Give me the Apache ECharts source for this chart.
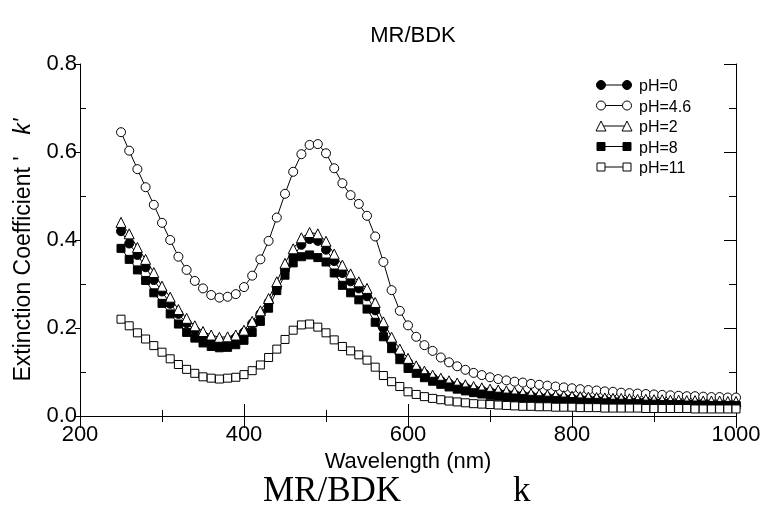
<!DOCTYPE html>
<html>
<head>
<meta charset="utf-8">
<script src="https://cdn.jsdelivr.net/npm/echarts@6/dist/echarts.min.js"></script>
<style>html,body{margin:0;padding:0;background:#fff}#c{width:771px;height:518px}</style>
</head>
<body>
<div id="c"></div>
<script>
const wavelengths = [250,260,270,280,290,300,310,320,330,340,350,360,370,380,390,400,410,420,430,440,450,460,470,480,490,500,510,520,530,540,550,560,570,580,590,600,610,620,630,640,650,660,670,680,690,700,710,720,730,740,750,760,770,780,790,800,810,820,830,840,850,860,870,880,890,900,910,920,930,940,950,960,970,980,990,1000];

const pH0 = [0.420,0.392,0.366,0.338,0.309,0.283,0.255,0.232,0.211,0.195,0.182,0.172,0.168,0.170,0.178,0.190,0.210,0.232,0.258,0.292,0.332,0.362,0.389,0.402,0.398,0.378,0.352,0.325,0.306,0.290,0.272,0.240,0.200,0.167,0.142,0.122,0.107,0.096,0.087,0.080,0.074,0.069,0.065,0.061,0.058,0.055,0.053,0.051,0.049,0.047,0.046,0.044,0.043,0.042,0.041,0.040,0.039,0.038,0.037,0.036,0.035,0.035,0.034,0.033,0.033,0.032,0.032,0.031,0.031,0.030,0.030,0.030,0.029,0.029,0.029,0.028];

const pH46 = [0.645,0.603,0.561,0.520,0.480,0.439,0.400,0.362,0.332,0.307,0.290,0.275,0.269,0.271,0.277,0.293,0.319,0.356,0.398,0.451,0.505,0.555,0.595,0.616,0.618,0.597,0.563,0.529,0.502,0.482,0.455,0.408,0.350,0.286,0.239,0.206,0.180,0.161,0.148,0.133,0.122,0.113,0.105,0.098,0.093,0.088,0.084,0.081,0.078,0.076,0.073,0.071,0.069,0.067,0.065,0.063,0.061,0.059,0.058,0.056,0.055,0.053,0.052,0.051,0.050,0.049,0.048,0.047,0.046,0.045,0.045,0.044,0.043,0.043,0.042,0.042];

const pH2 = [0.440,0.414,0.383,0.356,0.326,0.295,0.270,0.242,0.222,0.205,0.192,0.184,0.179,0.180,0.184,0.195,0.215,0.239,0.267,0.305,0.347,0.380,0.405,0.417,0.414,0.397,0.368,0.343,0.323,0.305,0.290,0.258,0.214,0.179,0.152,0.131,0.114,0.102,0.093,0.086,0.080,0.075,0.071,0.067,0.064,0.061,0.059,0.057,0.055,0.053,0.051,0.050,0.048,0.047,0.046,0.045,0.044,0.043,0.042,0.041,0.040,0.040,0.039,0.038,0.038,0.037,0.037,0.036,0.036,0.035,0.035,0.034,0.034,0.034,0.033,0.033];

const pH8 = [0.381,0.356,0.332,0.308,0.280,0.256,0.232,0.209,0.190,0.177,0.166,0.158,0.155,0.156,0.162,0.172,0.190,0.215,0.245,0.285,0.320,0.348,0.362,0.366,0.360,0.350,0.325,0.297,0.280,0.264,0.243,0.213,0.180,0.153,0.128,0.108,0.097,0.087,0.079,0.072,0.066,0.061,0.057,0.053,0.050,0.047,0.045,0.043,0.041,0.040,0.038,0.037,0.036,0.035,0.034,0.033,0.032,0.031,0.031,0.030,0.029,0.029,0.028,0.028,0.027,0.027,0.026,0.026,0.026,0.025,0.025,0.025,0.024,0.024,0.024,0.024];

const pH11 = [0.220,0.205,0.189,0.175,0.160,0.145,0.130,0.117,0.106,0.097,0.089,0.086,0.084,0.086,0.088,0.094,0.103,0.116,0.133,0.152,0.174,0.195,0.207,0.209,0.202,0.189,0.173,0.158,0.148,0.139,0.127,0.111,0.092,0.078,0.067,0.055,0.049,0.044,0.040,0.037,0.034,0.032,0.030,0.028,0.027,0.026,0.025,0.024,0.023,0.022,0.022,0.021,0.021,0.020,0.020,0.020,0.019,0.019,0.019,0.018,0.018,0.018,0.018,0.018,0.017,0.017,0.017,0.017,0.017,0.017,0.016,0.016,0.016,0.016,0.016,0.016];

const seriesNames = ['pH=0','pH=4.6','pH=2','pH=8','pH=11'];
const xTicks = [200,400,600,800,1000];
const yTicks = [0.0,0.2,0.4,0.6,0.8];

const SANS = '"Liberation Sans", Arial, sans-serif';
const SERIF = '"Liberation Serif", "Times New Roman", serif';

function pairs(vals){ return wavelengths.map((w,i)=>[w, vals[i]]); }

const defs = [
  {name: seriesNames[0], data: pH0,  symbol:'circle',   size:9,  fill:'#000'},
  {name: seriesNames[1], data: pH46, symbol:'circle',   size:9,  fill:'#fff'},
  {name: seriesNames[2], data: pH2,  symbol:'triangle', size:10, fill:'#fff'},
  {name: seriesNames[3], data: pH8,  symbol:'rect',     size:8,  fill:'#000'},
  {name: seriesNames[4], data: pH11, symbol:'rect',     size:8,  fill:'#fff'}
];

const series = defs.map(d => ({
  name: d.name,
  type: 'line',
  xAxisIndex: 0, yAxisIndex: 0,
  data: pairs(d.data),
  symbol: d.symbol,
  symbolSize: d.size,
  showAllSymbol: true,
  animation: false,
  lineStyle: {color:'#000', width:1},
  itemStyle: {color: d.fill, borderColor:'#000', borderWidth:1},
  emphasis: {disabled:true}
}));

// legend layout (pixels)
const LEG_TOP = 74, LEG_CY0 = 85, LEG_ROW = 20.5, LEG_X0 = 601, LEG_X1 = 627;
function markShape(d, cx, cy){
  const st = {fill: d.fill, stroke:'#000', lineWidth:1};
  if (d.symbol === 'circle') return {type:'circle', shape:{cx, cy, r: d.size/2}, style: st};
  if (d.symbol === 'rect') return {type:'rect', shape:{x: cx-d.size/2, y: cy-d.size/2, width: d.size, height: d.size}, style: st};
  const h = d.size/2;
  return {type:'polygon', shape:{points:[[cx, cy-h],[cx+h, cy+h],[cx-h, cy+h]]}, style: st};
}
const legendIcons = [];
defs.forEach((d, i) => {
  const cy = LEG_CY0 + i*LEG_ROW;
  legendIcons.push({type:'line', shape:{x1: LEG_X0, y1: cy, x2: LEG_X1, y2: cy}, style:{stroke:'#000', lineWidth:1}, z: 100});
  const a = markShape(d, LEG_X0, cy); a.z = 101; legendIcons.push(a);
  const b = markShape(d, LEG_X1, cy); b.z = 101; legendIcons.push(b);
});

const chart = echarts.init(document.getElementById('c'), null, {renderer:'canvas'});
chart.setOption({
  backgroundColor: '#fff',
  animation: false,
  title: {
    text: 'MR/BDK', left: 408, top: 20, textAlign: 'center',
    textStyle: {fontFamily: SANS, fontSize: 22, fontWeight: 'normal', color:'#000'}
  },
  grid: {left: 80, right: 35, top: 64, bottom: 102, containLabel: false},
  legend: {
    orient: 'vertical', left: 593, top: LEG_TOP, itemWidth: 35, itemHeight: 9, itemGap: 4.5,
    data: seriesNames, selectedMode: false,
    itemStyle: {opacity: 0}, lineStyle: {opacity: 0},
    textStyle: {fontFamily: SANS, fontSize: 16, lineHeight: 16, color:'#000'}
  },
  xAxis: [{
    type: 'value', min: 200, max: 1000, interval: 200,
    name: 'Wavelength (nm)', nameLocation: 'middle', nameGap: 31,
    nameTextStyle: {fontFamily: SANS, fontSize: 22, color:'#000'},
    axisLine: {lineStyle:{color:'#000', width:1}},
    axisTick: {inside: true, length: 12, lineStyle:{color:'#000'}},
    minorTick: {show: true, splitNumber: 2, length: 6, lineStyle:{color:'#000'}},
    axisLabel: {fontFamily: SANS, fontSize: 22, color:'#000', margin: 8,
      formatter: v => xTicks.includes(v) ? String(v) : ''},
    splitLine: {show:false}
  },{
    type: 'value', position: 'top', min: 200, max: 1000, interval: 200,
    axisLine: {lineStyle:{color:'#000', width:1}},
    axisTick: {inside: true, length: 12, lineStyle:{color:'#000'}},
    minorTick: {show: true, splitNumber: 2, length: 6, lineStyle:{color:'#000'}},
    axisLabel: {show:false}, splitLine: {show:false}
  }],
  yAxis: [{
    type: 'value', min: 0, max: 0.8, interval: 0.2,
    name: "{a|Extinction Coefficient '}{g|}{b|k'}{p|}", nameLocation: 'middle', nameGap: 43,
    nameTextStyle: {color:'#000', rich: {
      a: {fontFamily: SANS, fontSize: 23, color:'#000'},
      g: {width: 22},
      b: {fontFamily: SANS, fontSize: 23, fontStyle:'italic', color:'#000'},
      p: {width: 20}
    }},
    axisLine: {lineStyle:{color:'#000', width:1}},
    axisTick: {inside: false, length: 5, lineStyle:{color:'#000'}},
    minorTick: {show: true, splitNumber: 2, length: -6, lineStyle:{color:'#000'}},
    axisLabel: {fontFamily: SANS, fontSize: 22, color:'#000', margin: 3,
      formatter: v => yTicks.some(t => Math.abs(t - v) < 1e-9) ? v.toFixed(1) : ''},
    splitLine: {show:false}
  },{
    type: 'value', position: 'right', min: 0, max: 0.8, interval: 0.2,
    axisLine: {show:true, lineStyle:{color:'#000', width:1}},
    axisTick: {show:true, inside: true, length: 12, lineStyle:{color:'#000'}},
    minorTick: {show: true, splitNumber: 2, length: 7, lineStyle:{color:'#000'}},
    axisLabel: {show:false}, splitLine: {show:false}
  }],
  graphic: legendIcons.concat([
    {type:'text', left: 263, top: 474, style:{text:'MR/BDK', font: '35px ' + SERIF, fill:'#000'}},
    {type:'text', left: 513, top: 474, style:{text:'k', font: '35px ' + SERIF, fill:'#000'}}
  ]),
  series: series
});
</script>
</body>
</html>
